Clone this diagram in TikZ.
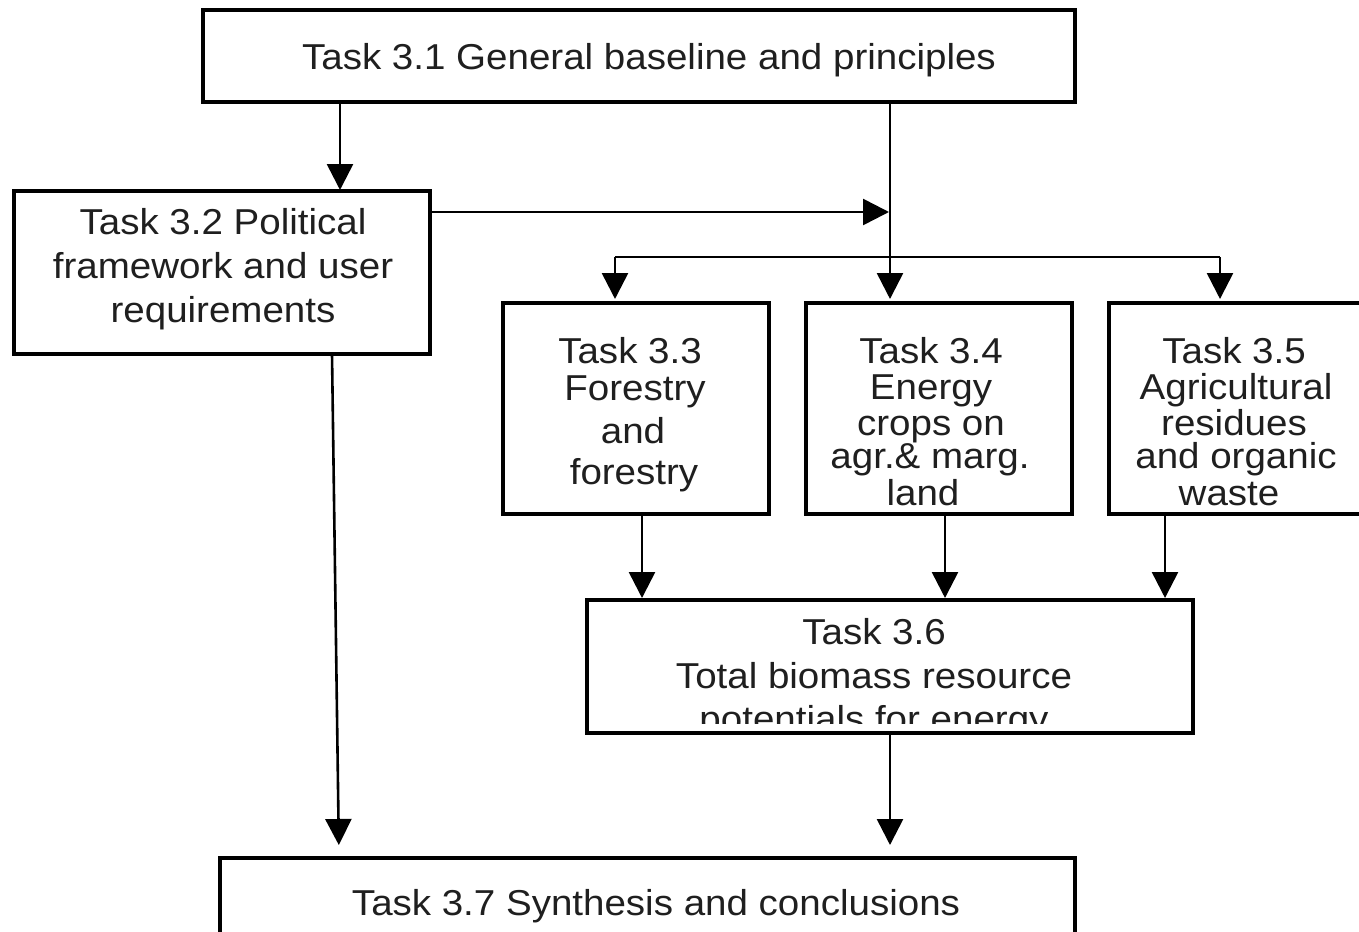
\documentclass[tikz,border=0pt]{standalone}
\usepackage{fontspec}
\setmainfont{Liberation Sans}[FakeStretch=1.07]
\usetikzlibrary{arrows.meta,calc}

\tikzset{
  box/.style={draw=black, line width=4pt, fill=none, inner sep=0pt, outer sep=0pt},
  txt/.style={anchor=base, inner sep=0pt, outer sep=0pt, text=black!88,
              font=\fontsize{36}{36}\selectfont},
  link/.style={draw=black, line width=2.6pt},
  arr/.style={link, -{Triangle[length=26pt,width=26pt]}},
}

\begin{document}
\begin{tikzpicture}[x=1pt,y=-1pt]
\useasboundingbox (0,0) rectangle (1359,931);
\fill[white] (0,0) rectangle (1359,931);

% boxes
\node[box, minimum width=872pt, minimum height=92pt]  (b31) at (639,56)    {};
\node[box, minimum width=416pt, minimum height=163pt] (b32) at (222,272.5) {};
\node[box, minimum width=266pt, minimum height=211pt] (b33) at (636,408.5) {};
\node[box, minimum width=266pt, minimum height=211pt] (b34) at (939,408.5) {};
\node[box, minimum width=266pt, minimum height=211pt] (b35) at (1242,408.5) {};
\node[box, minimum width=606pt, minimum height=133pt] (b36) at (890,666.5) {};
\node[box, minimum width=855pt, minimum height=102pt] (b37) at (647.5,909) {};

% texts
\node[txt] (t31) at (649,70) {Task 3.1 General baseline and principles};

\node[txt] (t32a) at (223,234) {Task 3.2 Political};
\node[txt] (t32b) at (223,278) {framework and user};
\node[txt] (t32c) at (223,322) {requirements};

\node[txt] (t33a) at (630,363) {Task 3.3};
\node[txt] (t33b) at (635,400) {Forestry};
\node[txt] (t33c) at (633,443) {and};
\node[txt] (t33d) at (634,484) {forestry};

\node[txt] (t34a) at (931,363) {Task 3.4};
\node[txt] (t34b) at (931,399) {Energy};
\node[txt] (t34c) at (931,435) {crops on};
\node[txt] (t34d) at (930,468) {agr.\& marg.};
\node[txt] (t34e) at (923,505) {land};

\node[txt] (t35a) at (1234,363) {Task 3.5};
\node[txt] (t35b) at (1236,399) {Agricultural};
\node[txt] (t35c) at (1234,435) {residues};
\node[txt] (t35d) at (1236,468) {and organic};
\node[txt] (t35e) at (1229,505) {waste};

\node[txt] (t36a) at (874,644) {Task 3.6};
\node[txt] (t36b) at (874,688) {Total biomass resource};
\begin{scope}
  \clip (590,600) rectangle (1190,723);
  \node[txt] (t36c) at (874,731) {potentials for energy};
\end{scope}

\node[txt] (t37) at (656,915) {Task 3.7 Synthesis and conclusions};

% connector lanes
\coordinate (xa) at (340,0);
\coordinate (xb) at (890,0);
\coordinate (j1) at (889,212);
\coordinate (bl) at (615,257);
\coordinate (br) at (1220,257);
\coordinate (x33) at (642,0);
\coordinate (x34) at (945,0);
\coordinate (x35) at (1165,0);
\coordinate (s32) at (332,0);
\coordinate (e37) at (339,0);

% 3.1 -> 3.2
\draw[arr, shorten >=1pt] (b31.south -| xa) -- (b32.north -| xa);
% 3.1 -> 3.4 (main trunk)
\draw[arr, shorten >=4pt] (b31.south -| xb) -- (b34.north -| xb);
% 3.2 -> trunk
\draw[arr, shorten >=0pt] (b32.east |- j1) -- (j1);
% branch to 3.3 and 3.5
\draw[link] (bl) -- (br);
\draw[arr, shorten >=4pt] (bl) -- (b33.north -| bl);
\draw[arr, shorten >=4pt] (br) -- (b35.north -| br);
% 3.3, 3.4, 3.5 -> 3.6
\draw[arr, shorten >=2pt] (b33.south -| x33) -- (b36.north -| x33);
\draw[arr, shorten >=2pt] (b34.south -| x34) -- (b36.north -| x34);
\draw[arr, shorten >=2pt] (b35.south -| x35) -- (b36.north -| x35);
% 3.6 -> 3.7
\draw[arr, shorten >=13pt] (b36.south -| xb) -- (b37.north -| xb);
% 3.2 -> 3.7
\draw[arr, shorten >=13pt] (b32.south -| s32) -- (b37.north -| e37);
\end{tikzpicture}
\end{document}
